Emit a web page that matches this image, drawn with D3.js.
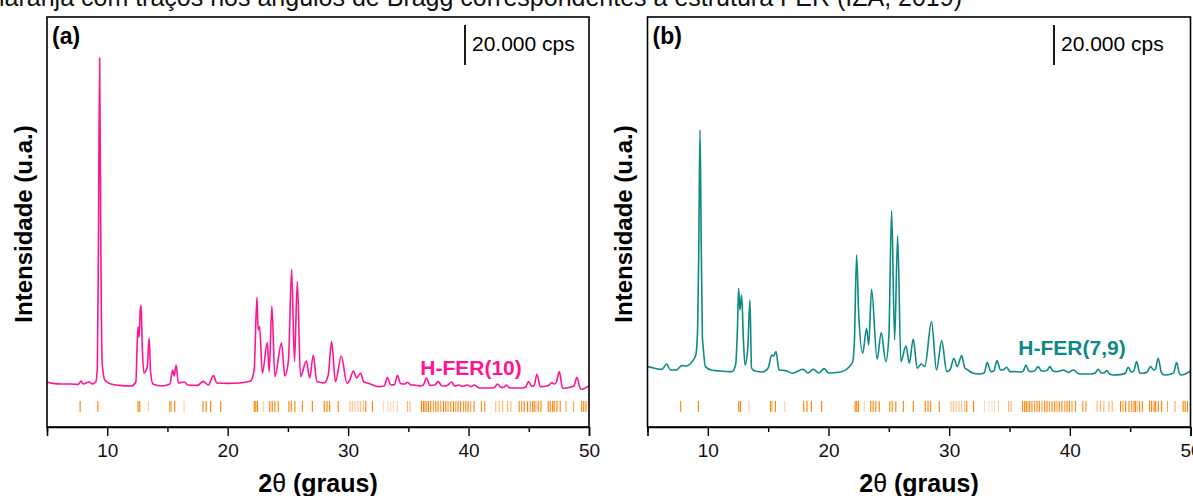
<!DOCTYPE html>
<html><head><meta charset="utf-8">
<script src="https://cdn.jsdelivr.net/npm/d3@7"></script>
<style>
body{margin:0;background:#fff;}
svg{display:block;font-family:Arial,"Liberation Sans",sans-serif;}
</style>
</head><body>
<svg id="chart" width="1193" height="496"></svg>
<script>
// ---------- DATA ----------
const xTickLabels = [10, 20, 30, 40, 50];
const xMinorTicks = [5, 15, 25, 35, 45];

// H-FER(10): 2θ (graus) and intensity (cps)
const thetaA = [5.0,5.5,6.2,7.0,7.6,7.83,8.0,8.5,8.75,9.05,9.18,9.27,9.37,9.47,9.58,9.8,10.3,11.0,12.0,12.38,12.48,12.56,12.65,12.74,12.81,12.92,13.05,13.32,13.48,13.6,13.8,14.5,15.2,15.44,15.56,15.72,15.9,16.4,16.7,17.5,17.97,18.4,18.82,19.1,20.0,21.0,21.9,22.2,22.43,22.53,22.65,22.88,23.29,23.45,23.67,23.92,24.47,24.75,25.05,25.31,25.55,25.78,26.05,26.53,26.81,27.11,27.4,28.0,28.35,28.63,28.95,29.44,29.9,30.1,30.44,30.7,31.04,31.3,31.6,32.5,33.0,33.26,33.55,33.85,34.09,34.35,34.7,34.93,35.2,35.5,36.0,36.25,36.5,36.8,37.2,37.47,37.75,38.0,38.3,38.58,38.85,39.2,39.5,39.9,40.2,40.46,40.8,41.0,41.8,42.15,42.4,42.7,42.95,43.15,43.4,43.6,44.5,44.75,44.98,45.25,45.45,45.67,45.95,46.5,46.7,46.9,47.15,47.3,47.53,47.8,47.9,48.5,48.75,49.0,49.25,49.4,50.0];
const countsA = [22500,21800,21500,21500,21300,23000,21500,22500,21500,22500,30000,90000,184500,90000,32000,23500,21500,20800,20500,22500,40000,50000,45000,58000,61000,38500,27000,30000,44500,27500,21500,20500,21500,28500,25500,31000,22000,22500,21000,20800,22800,21000,25700,22000,21800,22000,23000,28500,64900,48500,50200,27000,42200,27700,60500,25200,42000,25500,33500,78900,32700,72700,25200,33000,24500,36000,22700,22000,26000,42700,22700,35500,21900,23000,28000,24500,26900,22500,22000,20200,20500,24700,21000,21200,25700,21800,21500,22400,21000,21000,20500,21000,24500,20800,21000,22700,20800,20500,21000,22500,20500,21000,20300,21000,20200,21000,19800,19500,19500,19800,21500,19800,19900,21000,19600,19500,19500,20000,22700,20300,20800,26400,20200,20500,21000,22200,21500,22500,27700,19600,19400,20000,20500,24900,19500,18900,20700];

// H-FER(7,9): 2θ (graus) and intensity (cps)
const thetaB = [5.0,5.5,6.2,6.59,6.9,7.4,7.83,8.2,8.7,9.0,9.15,9.25,9.35,9.46,9.55,9.62,9.8,10.3,11.0,12.0,12.3,12.45,12.55,12.66,12.8,12.95,13.08,13.3,13.49,13.62,13.9,14.5,15.0,15.29,15.45,15.65,15.9,16.45,17.0,17.9,18.3,18.74,19.2,19.65,20.0,21.0,21.6,22.0,22.15,22.33,22.5,22.83,23.16,23.33,23.57,24.03,24.37,24.75,25.0,25.23,25.48,25.73,26.0,26.42,26.7,27.02,27.35,27.7,27.98,28.54,28.95,29.38,29.8,30.1,30.39,30.67,31.03,31.3,31.45,32.0,32.5,32.9,33.15,33.45,33.7,33.96,34.25,34.5,34.76,35.05,35.4,36.0,36.15,36.36,36.6,36.83,37.1,37.38,37.65,37.9,38.1,38.35,38.6,38.9,39.2,39.45,39.9,40.28,40.8,41.7,42.1,42.35,42.6,42.85,43.05,43.3,43.6,44.3,44.6,44.84,45.1,45.3,45.53,45.8,46.07,46.4,46.69,46.95,47.1,47.32,47.6,47.87,48.4,48.6,48.84,49.1,49.25,50.0];
const countsB = [30200,29500,28800,31500,28500,28500,30700,30500,32700,36000,48500,88500,148500,88500,45000,39500,30200,28500,28000,27700,31000,48500,69400,58500,66000,43500,31000,38500,63500,29400,28000,27500,29500,36000,35500,37700,28500,28200,26900,28900,27000,28900,27000,29200,27000,27500,29400,32500,43500,86000,56900,36900,49400,41000,68900,33900,47200,32700,45000,108200,43500,95500,32700,40500,31900,44000,29400,31500,30200,52700,28500,43200,27700,29000,34400,30200,35700,29500,28900,26900,26500,27000,32200,27700,28000,33200,28500,28600,29900,27700,27700,27500,28000,31000,28000,27700,28200,30200,28000,28000,28300,30200,28000,27700,28000,28500,27300,28500,26500,26500,27000,28900,27000,27000,28200,26500,26000,26300,27000,29900,27500,28000,32700,27000,26900,27500,30200,28500,29000,34400,27000,26000,26500,27000,32200,26500,26000,28000];

// Bragg reflections of FER (IZA): positions and relative strength
const braggTheta = [7.75,9.22,12.56,12.70,13.42,15.20,15.32,15.60,16.38,17.95,18.22,18.58,19.43,22.21,22.34,22.48,22.96,23.50,23.70,23.92,24.20,25.08,25.28,25.58,26.20,27.03,28.02,28.25,28.47,29.18,30.15,30.35,30.57,30.82,31.04,31.27,31.46,32.02,32.93,33.31,33.54,33.76,34.09,34.93,35.14,36.09,36.26,36.39,36.53,36.67,36.86,37.08,37.28,37.47,37.69,37.92,38.11,38.30,38.53,38.75,38.94,39.13,39.34,39.58,39.77,39.96,40.18,40.46,41.07,41.34,42.26,42.54,42.82,43.24,43.51,44.20,44.40,44.62,44.90,45.12,45.32,45.45,45.59,45.78,46.01,46.61,46.78,46.98,47.11,47.34,47.61,48.09,48.72,49.39,49.56,49.75];
const braggStrength = [1,1,1,1,0.4,1,0.7,1,0.4,1,1,1,1,1,1,1,0.4,1,1,1,1,1,1,1,1,1,1,1,1,1,0.5,0.5,0.5,0.5,0.5,0.5,1,1,0.3,0.3,0.3,0.3,0.4,0.6,0.6,1,1,1,0.8,1,1,0.8,1,1,0.8,1,1,0.8,1,1,0.8,1,1,0.8,1,1,0.8,1,0.9,0.9,0.6,0.6,0.6,0.6,0.6,1,0.8,1,1,0.8,1,1,0.5,1,1,1,1,1,1,1,1,0.7,0.7,1,1,1];

const titleLine = "laranja com traços nos ângulos de Bragg correspondentes à estrutura FER (IZA, 2019)";

// ---------- LAYOUT ----------
const svg = d3.select("#chart");
const plotTop = 17, plotBottom = 427;
const y = d3.scaleLinear().domain([0, 205000]).range([plotBottom, plotTop]);

svg.append("text").attr("x", 962).attr("y", 6).attr("text-anchor", "end")
  .attr("font-size", 25).attr("fill", "#111").text(titleLine);

const panels = [
  {tag: "(a)", name: "H-FER(10)", color: "#FF1493", x0: 47, x1: 589, theta: thetaA, counts: countsA, nameX: 471, nameY: 375, barX: 465, yTitleX: 23},
  {tag: "(b)", name: "H-FER(7,9)", color: "#0E8A84", x0: 647.5, x1: 1190.5, theta: thetaB, counts: countsB, nameX: 1072, nameY: 355, barX: 1054, yTitleX: 623}
];

panels.forEach(p => {
  const x = d3.scaleLinear().domain([5, 50]).range([p.x0, p.x1]);
  const g = svg.append("g");

  // Bragg reflection ticks
  g.selectAll("line.bragg").data(braggTheta).join("line")
    .attr("class", "bragg")
    .attr("x1", d => x(d)).attr("x2", d => x(d))
    .attr("y1", 401).attr("y2", 412)
    .attr("stroke", "#FF8000").attr("stroke-width", 1.1)
    .attr("stroke-opacity", (d, i) => braggStrength[i]);

  // pattern
  const pts = p.theta.map((t, i) => [t, p.counts[i]]);
  const line = d3.line().curve(d3.curveMonotoneX).x(d => x(d[0])).y(d => y(d[1]));
  g.append("path").datum(pts).attr("d", line)
    .attr("fill", "none").attr("stroke", p.color).attr("stroke-width", 1.6)
    .attr("stroke-linejoin", "round");

  // frame
  g.append("rect").attr("x", p.x0).attr("y", plotTop)
    .attr("width", p.x1 - p.x0).attr("height", plotBottom - plotTop)
    .attr("fill", "none").attr("stroke", "#000").attr("stroke-width", 1.6);

  // x axis
  const ax = g.append("g").attr("transform", `translate(0,${plotBottom})`)
    .call(d3.axisBottom(x).tickValues(xTickLabels).tickSize(9).tickPadding(8).tickFormat(d3.format("d")));
  ax.select(".domain").attr("stroke-width", 1.6);
  ax.selectAll(".tick line").attr("stroke-width", 1.4);
  ax.selectAll("text").attr("font-size", 19).attr("font-family", "Arial, 'Liberation Sans', sans-serif").attr("fill", "#111");
  const axm = g.append("g").attr("transform", `translate(0,${plotBottom})`)
    .call(d3.axisBottom(x).tickValues(xMinorTicks).tickSize(5).tickFormat(""));
  axm.select(".domain").remove();
  axm.selectAll(".tick line").attr("stroke-width", 1.4);

  // labels
  g.append("text").attr("x", p.x0 + 5).attr("y", 44).attr("font-size", 23)
    .attr("font-weight", "bold").text(p.tag);
  g.append("text").attr("x", p.nameX).attr("y", p.nameY).attr("text-anchor", "middle")
    .attr("font-size", 21).attr("font-weight", "bold").attr("fill", p.color).text(p.name);

  // scale bar 20.000 cps
  g.append("line").attr("x1", p.barX).attr("x2", p.barX)
    .attr("y1", y(181000)).attr("y2", y(201000))
    .attr("stroke", "#000").attr("stroke-width", 1.8);
  g.append("text").attr("x", p.barX + 7).attr("y", 51).attr("font-size", 21).text("20.000 cps");

  // axis titles
  const xt = g.append("text").attr("x", (p.x0 + p.x1) / 2).attr("y", 492)
    .attr("text-anchor", "middle").attr("font-size", 25).attr("font-weight", "bold");
  xt.append("tspan").text("2");
  xt.append("tspan").attr("font-weight", "normal").text("θ");
  xt.append("tspan").text(" (graus)");
  g.append("text").attr("transform", `translate(${p.yTitleX},${(plotTop + plotBottom) / 2 + 2}) rotate(-90)`)
    .attr("text-anchor", "middle").attr("dominant-baseline", "central")
    .attr("font-size", 24).attr("font-weight", "bold").text("Intensidade (u.a.)");
});
</script>
</body></html>
